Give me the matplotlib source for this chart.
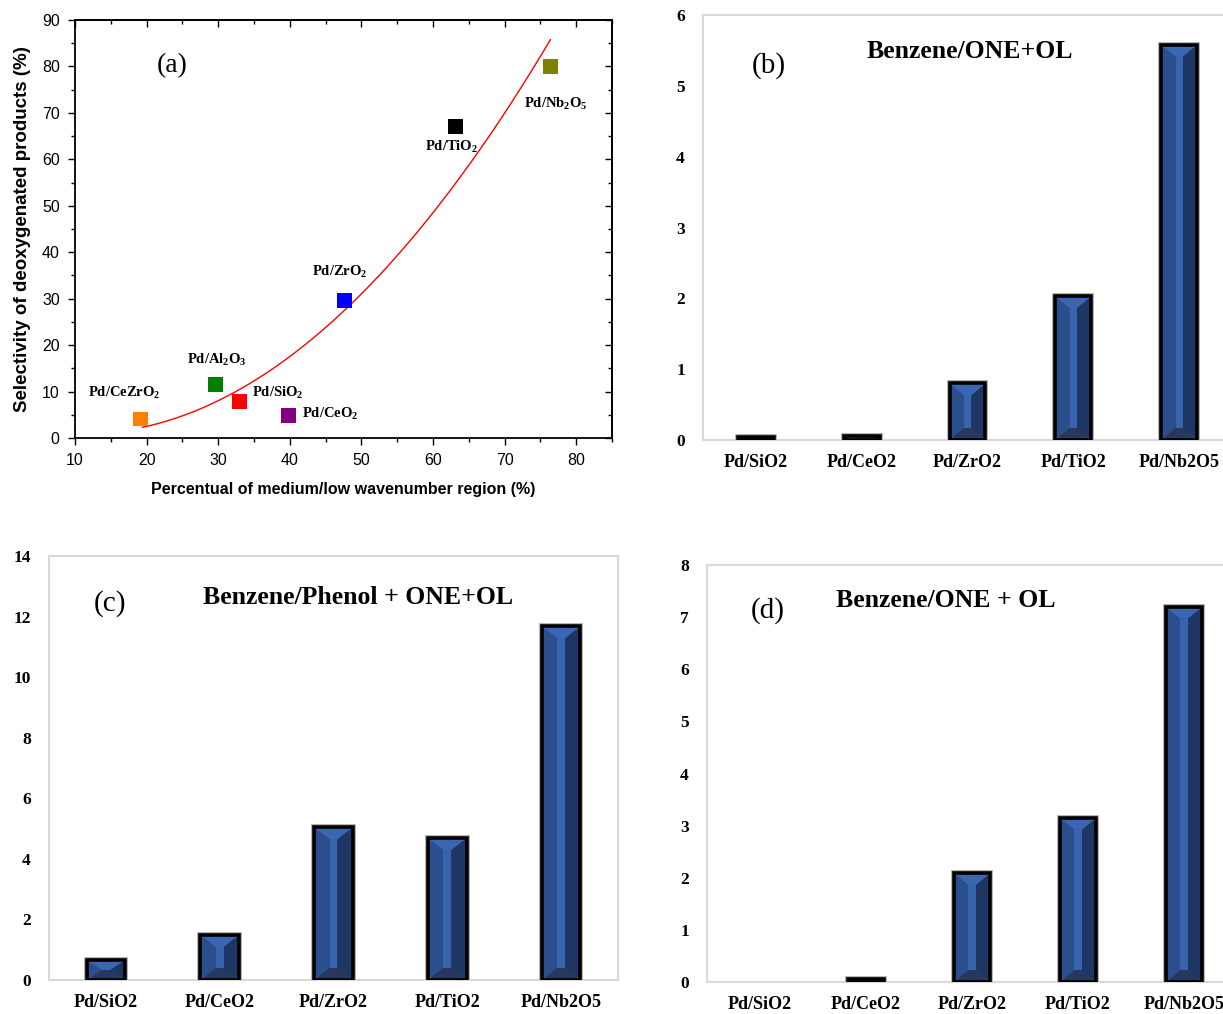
import numpy as np
import matplotlib
matplotlib.use("Agg")
import matplotlib.pyplot as plt
from matplotlib.patches import Polygon
from matplotlib.ticker import MultipleLocator

plt.rcParams["mathtext.fontset"] = "custom"
plt.rcParams["mathtext.rm"] = "Liberation Serif:bold"
plt.rcParams["mathtext.it"] = "Liberation Serif:bold"
plt.rcParams["mathtext.bf"] = "Liberation Serif:bold"
plt.rcParams["mathtext.default"] = "rm"

SERIF = "Liberation Serif"
SANS = "Liberation Sans"

# ── panel (a) data ─────────────────────────────────────
catalysts_a = [r"Pd/CeZrO$_2$", r"Pd/Al$_2$O$_3$", r"Pd/SiO$_2$", r"Pd/CeO$_2$",
               r"Pd/ZrO$_2$", r"Pd/TiO$_2$", r"Pd/Nb$_2$O$_5$"]
wavenumber_pct = [19.2, 29.6, 33.0, 39.8, 47.7, 63.1, 76.4]
selectivity = [4.1, 11.5, 7.9, 4.9, 29.7, 67.0, 80.0]
marker_colors = ["#ff7f00", "#008000", "#ff0000", "#800080", "#0000ff", "#000000", "#808000"]
# quadratic fit
fit_coef = [0.0199, -0.442, 3.38]
fit_range = [19.4, 76.4]

# ── bar panels data ────────────────────────────────────
bar_labels = ["Pd/SiO2", "Pd/CeO2", "Pd/ZrO2", "Pd/TiO2", "Pd/Nb2O5"]
vals_b = [0.04, 0.05, 0.80, 2.03, 5.58]
vals_c = [0.66, 1.49, 5.05, 4.69, 11.68]
vals_d = [0.0, 0.06, 2.09, 3.15, 7.20]

W, H = 1223, 1014
fig = plt.figure(figsize=(W / 100, H / 100), dpi=100)


def px_axes(l, r, t, b):
    return fig.add_axes([l / W, 1 - b / H, (r - l) / W, (b - t) / H])


# ── panel (a) ──────────────────────────────────────────
ax = px_axes(75, 612, 20, 438)
xf = np.linspace(fit_range[0], fit_range[1], 200)
ax.plot(xf, np.polyval(fit_coef, xf), color="red", lw=1.0, zorder=2)
ax.scatter(wavenumber_pct, selectivity, marker="s", s=115, c=marker_colors,
           edgecolors="none", zorder=3)
label_pos = [(16.9, 9.8), (29.8, 16.7), (38.3, 9.8), (45.7, 5.2),
             (47.0, 35.7), (62.6, 62.6), (77.1, 72.0)]
for lab, (lx, ly) in zip(catalysts_a, label_pos):
    ax.text(lx, ly, lab, fontsize=10.5, family=SERIF, weight="bold",
            ha="center", va="center")
ax.text(23.6, 80.2, "(a)", fontsize=20, family=SERIF, ha="center", va="center")
ax.set_xlim(10, 85)
ax.set_ylim(0, 90)
ax.xaxis.set_major_locator(MultipleLocator(10))
ax.xaxis.set_minor_locator(MultipleLocator(5))
ax.yaxis.set_major_locator(MultipleLocator(10))
ax.yaxis.set_minor_locator(MultipleLocator(5))
ax.tick_params(which="both", direction="out", width=1.0, pad=6)
ax.tick_params(which="major", length=5)
ax.tick_params(which="minor", length=3)
for t in ax.get_xticklabels() + ax.get_yticklabels():
    t.set_fontfamily(SANS)
    t.set_fontsize(11.5)
for sp in ax.spines.values():
    sp.set_linewidth(1.3)

# inward ticks on top and right
top = ax.secondary_xaxis("top")
top.xaxis.set_major_locator(MultipleLocator(10))
top.xaxis.set_minor_locator(MultipleLocator(5))
top.tick_params(which="both", direction="in", labeltop=False, width=1.0)
top.tick_params(which="major", length=5)
top.tick_params(which="minor", length=3)
right = ax.secondary_yaxis("right")
right.yaxis.set_major_locator(MultipleLocator(10))
right.yaxis.set_minor_locator(MultipleLocator(5))
right.tick_params(which="both", direction="in", labelright=False, width=1.0)
right.tick_params(which="major", length=5)
right.tick_params(which="minor", length=3)
for sec in (top, right):
    for sp in sec.spines.values():
        sp.set_linewidth(1.3)

ax.set_xlabel("Percentual of medium/low wavenumber region (%)", family=SANS,
              weight="bold", fontsize=11.5, labelpad=10)
ax.set_ylabel("Selectivity of deoxygenated products (%)", family=SANS,
              weight="bold", fontsize=13.5, labelpad=8)


# ── bevelled bars ──────────────────────────────────────
def bevel_bars(ax, values, ymax, width=0.34):
    x = np.arange(len(values))
    ax.set_xlim(-0.5, len(values) - 0.5)
    ax.set_ylim(0, ymax)
    bb = ax.get_position()
    py = bb.height * H / ymax
    shown = [i for i, h in enumerate(values) if h > 0]
    xs = x[shown]
    hs = [values[i] for i in shown]
    ax.bar(xs, hs, width, color="#2b4e8c", edgecolor="#b0b0b0", linewidth=4.2, zorder=3)
    for i, h in zip(xs, hs):
        x0, x1 = i - width / 2, i + width / 2
        dy = min(12, h * py / 2) / py
        sw = 0.1 * width
        cl, cr = i - sw, i + sw
        faces = [
            ([(x0, 0), (x0, h), (cl, h - dy), (cl, dy)], "#2b4e8c"),
            ([(x1, 0), (x1, h), (cr, h - dy), (cr, dy)], "#1e3663"),
            ([(cl, dy), (cl, h - dy), (cr, h - dy), (cr, dy)], "#3864ae"),
            ([(x0, h), (x1, h), (cr, h - dy), (cl, h - dy)], "#3a66b4"),
            ([(x0, 0), (x1, 0), (cr, dy), (cl, dy)], "#27385c"),
        ]
        for pts, col in faces:
            ax.add_patch(Polygon(pts, closed=True, facecolor=col, edgecolor="none", zorder=4))
    ax.bar(xs, hs, width, fill=False, edgecolor="black", linewidth=2.6, zorder=5)
    ax.set_xticks(x)
    ax.set_xticklabels(bar_labels, family=SERIF, weight="bold", fontsize=13)
    ax.tick_params(length=0)
    ax.tick_params(axis="x", pad=10)
    ax.tick_params(axis="y", pad=13)
    for sp in ax.spines.values():
        sp.set_color("#d9d9d9")
        sp.set_linewidth(1.5)


def style_yticks(ax, ticks):
    ax.set_yticks(ticks)
    for t in ax.get_yticklabels():
        t.set_fontfamily(SERIF)
        t.set_fontweight("bold")
        t.set_fontsize(12.5)


ax_b = px_axes(703, 1232, 15, 440)
bevel_bars(ax_b, vals_b, 6)
style_yticks(ax_b, range(0, 7))
ax_b.text(2.02, 5.48, "Benzene/ONE+OL", family=SERIF, weight="bold", fontsize=18.5,
          ha="center", va="center")
ax_b.text(0.12, 5.28, "(b)", family=SERIF, fontsize=21, ha="center", va="center")

ax_c = px_axes(49, 618, 556, 980)
bevel_bars(ax_c, vals_c, 14)
style_yticks(ax_c, range(0, 15, 2))
ax_c.text(2.22, 12.64, "Benzene/Phenol + ONE+OL", family=SERIF, weight="bold",
          fontsize=18.5, ha="center", va="center")
ax_c.text(0.035, 12.44, "(c)", family=SERIF, fontsize=21, ha="center", va="center")

ax_d = px_axes(707, 1237, 565, 982)
bevel_bars(ax_d, vals_d, 8)
style_yticks(ax_d, range(0, 9))
ax_d.text(1.75, 7.31, "Benzene/ONE + OL", family=SERIF, weight="bold", fontsize=18.5,
          ha="center", va="center")
ax_d.text(0.075, 7.12, "(d)", family=SERIF, fontsize=21, ha="center", va="center")

fig.savefig("out.png", dpi=100)
